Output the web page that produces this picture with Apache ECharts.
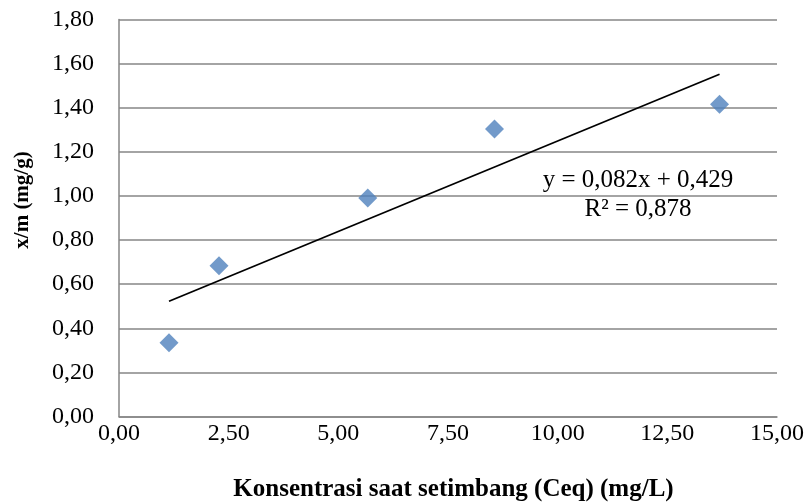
<!DOCTYPE html>
<html>
<head>
<meta charset="utf-8">
<script src="https://cdn.jsdelivr.net/npm/echarts@6/dist/echarts.min.js"></script>
<style>html,body{margin:0;padding:0;background:#fff}#c{width:811px;height:504px}</style>
</head>
<body>
<div id="c"></div>
<script>
const ceq = [1.14, 2.28, 5.67, 8.56, 13.69];
const xm = [0.334, 0.683, 0.991, 1.304, 1.416];
const trendSlope = 0.082;
const trendIntercept = 0.429;
const eqLine1 = 'y = 0,082x + 0,429';
const eqLine2 = 'R² = 0,878';
const xTitle = 'Konsentrasi saat setimbang (Ceq) (mg/L)';
const yTitle = 'x/m (mg/g)';

const fmt = v => v.toFixed(2).replace('.', ',');
const xmin = Math.min(...ceq), xmax = Math.max(...ceq);
const trend = [[xmin, trendSlope * xmin + trendIntercept], [xmax, trendSlope * xmax + trendIntercept]];
const font = '"Liberation Serif", "Times New Roman", serif';

const chart = echarts.init(document.getElementById('c'), null, {renderer: 'canvas'});
chart.setOption({
  animation: false,
  backgroundColor: '#fff',
  grid: {left: 119, right: 34, top: 19.5, bottom: 87.5, containLabel: false, outerBoundsMode: 'none'},
  xAxis: {
    type: 'value', min: 0, max: 15, interval: 2.5,
    axisLine: {show: true, lineStyle: {color: '#868686', width: 1.5}},
    axisTick: {show: false},
    splitLine: {show: false},
    axisLabel: {formatter: fmt, color: '#000', fontFamily: font, fontSize: 24, margin: 5},
    name: xTitle, nameLocation: 'middle', nameGap: 61,
    nameTextStyle: {color: '#000', fontFamily: font, fontSize: 25, fontWeight: 'bold', padding: [0, 0, 0, 11]}
  },
  yAxis: {
    type: 'value', min: 0, max: 1.8, interval: 0.2,
    axisLine: {show: true, lineStyle: {color: '#868686', width: 1.5}},
    axisTick: {show: false},
    splitLine: {show: true, lineStyle: {color: '#868686', width: 1.5}},
    axisLabel: {formatter: fmt, color: '#000', fontFamily: font, fontSize: 24, margin: 25},
    name: ''
  },
  series: [
    {
      type: 'line', data: trend, showSymbol: false, symbol: 'none',
      lineStyle: {color: '#000', width: 1.8}, z: 3, silent: true
    },
    {
      type: 'scatter', data: ceq.map((x, i) => [x, xm[i]]),
      symbol: 'diamond', symbolSize: [19, 19],
      itemStyle: {color: '#4f81bd'}, z: 4
    }
  ],
  graphic: [
    {type: 'text', x: 23, y: 200, rotation: Math.PI / 2, style: {text: yTitle, align: 'center', verticalAlign: 'middle', fill: '#000', font: 'bold 21px ' + font}, z: 10},
    {type: 'text', x: 638, y: 180, style: {text: eqLine1, align: 'center', verticalAlign: 'middle', fill: '#000', font: '25px ' + font}, z: 10},
    {type: 'text', x: 638, y: 209, style: {text: eqLine2, align: 'center', verticalAlign: 'middle', fill: '#000', font: '25px ' + font}, z: 10}
  ]
});
</script>
</body>
</html>
